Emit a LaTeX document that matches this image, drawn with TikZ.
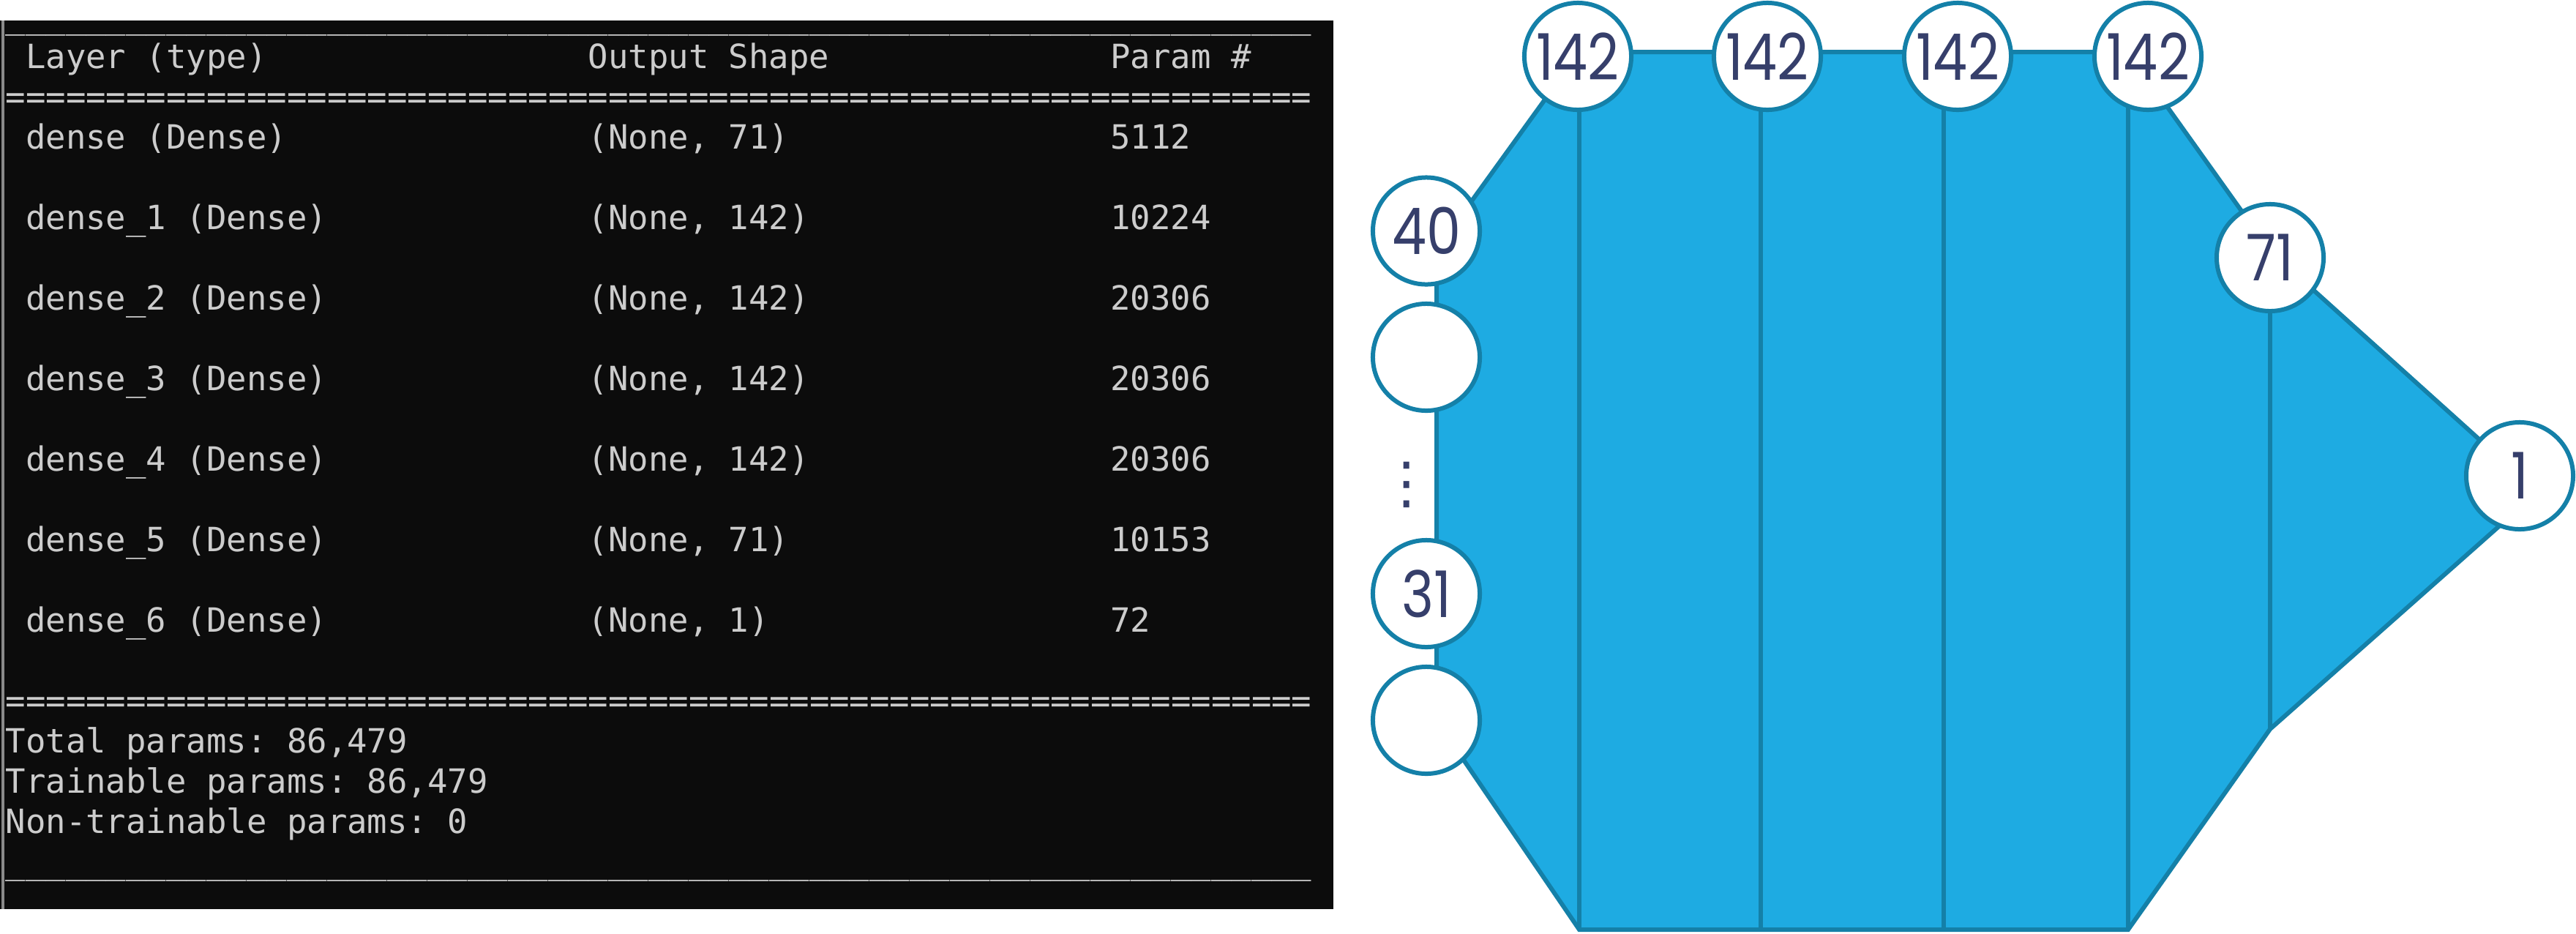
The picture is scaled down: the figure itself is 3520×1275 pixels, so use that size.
\documentclass[tikz,border=0pt]{standalone}
\usepackage{fontspec}
\usepackage{graphicx}
\setmainfont{Poppins}
\newfontfamily\termfont{DejaVu Sans Mono}
\newfontfamily\numfont[FakeStretch=0.85]{Poppins}
\newfontfamily\symfont{DejaVu Sans}
\definecolor{termbg}{HTML}{0C0C0C}
\definecolor{termfg}{HTML}{CCCCCC}
\definecolor{termedge}{HTML}{8A8A8A}
\definecolor{nnfill}{HTML}{1EABE2}
\definecolor{nnedge}{HTML}{1480A8}
\definecolor{nntext}{HTML}{363F6B}
\newcount\rpcount
\newcommand\rpt[2]{\rpcount=#1\relax\loop\ifnum\rpcount>0 #2\advance\rpcount by -1\relax\repeat}
\tikzset{
  termtext/.style={anchor=base west, inner sep=0pt, text=termfg,
    font=\termfont\fontsize{12.97pt}{13pt}\selectfont\frenchspacing},
  layer/.style={circle, draw=nnedge, line width=0.06cm, fill=white,
    minimum size=1.46cm, inner sep=0pt, text=nntext,
    font=\numfont\fontsize{25pt}{25pt}\selectfont},
  nnline/.style={draw=nnedge, line width=0.06cm},
}
\begin{document}
\begin{tikzpicture}[x=0.01cm,y=-0.01cm]
\useasboundingbox (0,0) rectangle (3520,1275);
% ---------------- terminal ----------------
\fill[termbg] (0,28) rectangle (1822,1242);
\draw[termedge, line width=0.03cm] (4,28) -- (4,1242);
\node[termtext] (l0) at (7,38.3) {\rpt{65}{\_}};
\node[termtext] (h1) at (34.45,93.3) {Layer (type)};
\node[termtext] (h2) at (803.05,93.3) {Output Shape};
\node[termtext] (h3) at (1516.75,93.3) {Param \#};
\node[termtext] (l2) at (7,148.3) {\rpt{65}{=}};
\node[termtext] (r1a) at (34.45,203.3) {dense (Dense)};
\node[termtext] (r1b) at (803.05,203.3) {(None, 71)};
\node[termtext] (r1c) at (1516.75,203.3) {5112};
\node[termtext] (r2a) at (34.45,313.3) {dense\_1 (Dense)};
\node[termtext] (r2b) at (803.05,313.3) {(None, 142)};
\node[termtext] (r2c) at (1516.75,313.3) {10224};
\node[termtext] (r3a) at (34.45,423.3) {dense\_2 (Dense)};
\node[termtext] (r3b) at (803.05,423.3) {(None, 142)};
\node[termtext] (r3c) at (1516.75,423.3) {20306};
\node[termtext] (r4a) at (34.45,533.3) {dense\_3 (Dense)};
\node[termtext] (r4b) at (803.05,533.3) {(None, 142)};
\node[termtext] (r4c) at (1516.75,533.3) {20306};
\node[termtext] (r5a) at (34.45,643.3) {dense\_4 (Dense)};
\node[termtext] (r5b) at (803.05,643.3) {(None, 142)};
\node[termtext] (r5c) at (1516.75,643.3) {20306};
\node[termtext] (r6a) at (34.45,753.3) {dense\_5 (Dense)};
\node[termtext] (r6b) at (803.05,753.3) {(None, 71)};
\node[termtext] (r6c) at (1516.75,753.3) {10153};
\node[termtext] (r7a) at (34.45,863.3) {dense\_6 (Dense)};
\node[termtext] (r7b) at (803.05,863.3) {(None, 1)};
\node[termtext] (r7c) at (1516.75,863.3) {72};
\node[termtext] (l17) at (7,973.3) {\rpt{65}{=}};
\node[termtext] (t1) at (7,1028.3) {Total params: 86,479};
\node[termtext] (t2) at (7,1083.3) {Trainable params: 86,479};
\node[termtext] (t3) at (7,1138.3) {Non-trainable params: 0};
\node[termtext] (l21) at (7,1193.3) {\rpt{65}{\_}};
% ---------------- network shape ----------------
\coordinate (A) at (2158,71);
\coordinate (J) at (2908,71);
\coordinate (I) at (3102,343);
\coordinate (R) at (3443,650);
\coordinate (R2) at (3443,694);
\coordinate (F) at (3102,996);
\coordinate (E) at (2908,1270);
\coordinate (D) at (2158,1270);
\coordinate (C) at (1963,984);
\coordinate (B) at (1963,341);
\filldraw[fill=nnfill, nnline, line join=miter]
  (A) -- (J) -- (I) -- (R) -- (R2) -- (F) -- (E) -- (D) -- (C) -- (B) -- cycle;
\coordinate (v2t) at (2406,71);
\coordinate (v2b) at (2406,1270);
\coordinate (v3t) at (2656,71);
\coordinate (v3b) at (2656,1270);
\draw[nnline] (A) -- (D);
\draw[nnline] (v2t) -- (v2b);
\draw[nnline] (v3t) -- (v3b);
\draw[nnline] (J) -- (E);
\draw[nnline] (I) -- (F);
% circles
\node[layer] (c1) at (2156,77) {142};
\node[layer] (c2) at (2415,77) {142};
\node[layer] (c3) at (2675,77) {142};
\node[layer] (c4) at (2935,77) {142};
\node[layer] (in1) at (1949,315.5) {40};
\node[layer] (in2) at (1949,488) {};
\node[layer] (in3) at (1949,811) {31};
\node[layer] (in4) at (1949,984) {};
\node[layer] (c5) at (3102,352) {71};
\node[layer] (out) at (3443,650) {1};
\node[inner sep=0pt, text=nntext, font=\symfont\fontsize{22pt}{22pt}\selectfont] (dots) at (1922,662) {⋮};
\end{tikzpicture}
\end{document}
